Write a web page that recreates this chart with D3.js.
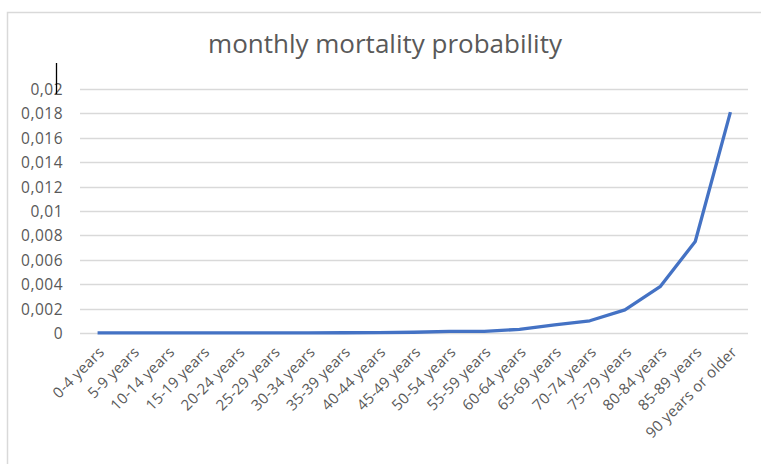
<!DOCTYPE html>
<html>
<head>
<meta charset="utf-8">
<script src="https://cdn.jsdelivr.net/npm/d3@7"></script>
<style>
  html, body { margin: 0; padding: 0; background: #fff; }
  svg { display: block; }
</style>
</head>
<body>
<svg id="chart" width="761" height="464"></svg>
<script>
// Age groups on the x axis
const ageGroups = [
  "0-4 years", "5-9 years", "10-14 years", "15-19 years", "20-24 years",
  "25-29 years", "30-34 years", "35-39 years", "40-44 years", "45-49 years",
  "50-54 years", "55-59 years", "60-64 years", "65-69 years", "70-74 years",
  "75-79 years", "80-84 years", "85-89 years", "90 years or older"
];

// Monthly probability of death per age group
const mortality = [
  0.00001, 0.000005, 0.000005, 0.00001, 0.00001,
  0.00001, 0.00001, 0.00002, 0.00003, 0.00006,
  0.00013, 0.00013, 0.0003, 0.00066, 0.001,
  0.0019, 0.0038, 0.0075, 0.0181
];

// Y axis tick values and their labels (decimal comma)
const yTicks = [0, 0.002, 0.004, 0.006, 0.008, 0.01, 0.012, 0.014, 0.016, 0.018, 0.02];
const yTickLabels = ["0", "0,002", "0,004", "0,006", "0,008", "0,01", "0,012", "0,014", "0,016", "0,018", "0,02"];

const titleText = "monthly mortality probability";

const svg = d3.select("#chart");
const font = "'Open Sans', 'Noto Sans', sans-serif";
const textColor = "#595959";

// Chart frame
svg.append("rect")
  .attr("x", 7.5).attr("y", 12.5)
  .attr("width", 780).attr("height", 480)
  .attr("fill", "none")
  .attr("stroke", "#d9d9d9")
  .attr("stroke-width", 1.5);

const plot = { left: 80, right: 748, top: 89, bottom: 333 };

const x = d3.scalePoint()
  .domain(ageGroups)
  .range([plot.left, plot.right])
  .padding(0.5);

const y = d3.scaleLinear()
  .domain([0, 0.02])
  .range([plot.bottom, plot.top]);

// Horizontal gridlines
svg.append("g")
  .selectAll("line")
  .data(yTicks)
  .join("line")
  .attr("x1", plot.left).attr("x2", plot.right)
  .attr("y1", d => Math.round(y(d)) + 0.5)
  .attr("y2", d => Math.round(y(d)) + 0.5)
  .attr("stroke", "#d9d9d9")
  .attr("stroke-width", 1.3);

// Y axis labels
const yAxis = d3.axisLeft(y)
  .tickValues(yTicks)
  .tickFormat((d, i) => yTickLabels[i])
  .tickSize(0)
  .tickPadding(0);

svg.append("g")
  .attr("transform", `translate(63,0)`)
  .call(yAxis)
  .call(g => g.select(".domain").remove())
  .call(g => g.selectAll("text")
    .attr("font-family", font)
    .attr("font-size", 15.5)
    .attr("letter-spacing", 0.5)
    .attr("dy", "0.35em")
    .attr("fill", textColor));

// X axis labels, rotated
const xAxis = d3.axisBottom(x).tickSize(0).tickPadding(0);
svg.append("g")
  .attr("transform", `translate(0,${plot.bottom})`)
  .call(xAxis)
  .call(g => g.select(".domain").remove())
  .call(g => g.selectAll("text")
    .attr("font-family", font)
    .attr("font-size", 15)
    .attr("letter-spacing", 0.2)
    .attr("fill", textColor)
    .attr("text-anchor", "end")
    .attr("dy", 0)
    .attr("y", 0)
    .attr("transform", "translate(7,20) rotate(-45)"));

// Mortality line
svg.append("path")
  .datum(mortality)
  .attr("fill", "none")
  .attr("stroke", "#4472c4")
  .attr("stroke-width", 3.3)
  .attr("stroke-linejoin", "round")
  .attr("d", d3.line()
    .x((d, i) => x(ageGroups[i]))
    .y(d => y(d)));

// Title
svg.append("text")
  .attr("x", 385).attr("y", 53)
  .attr("text-anchor", "middle")
  .attr("font-family", font)
  .attr("font-size", 26)
  .attr("fill", textColor)
  .text(titleText);

// Text cursor mark
svg.append("line")
  .attr("x1", 56.5).attr("x2", 56.5)
  .attr("y1", 63).attr("y2", 94)
  .attr("stroke", "#000")
  .attr("stroke-width", 1.3);
</script>
</body>
</html>
